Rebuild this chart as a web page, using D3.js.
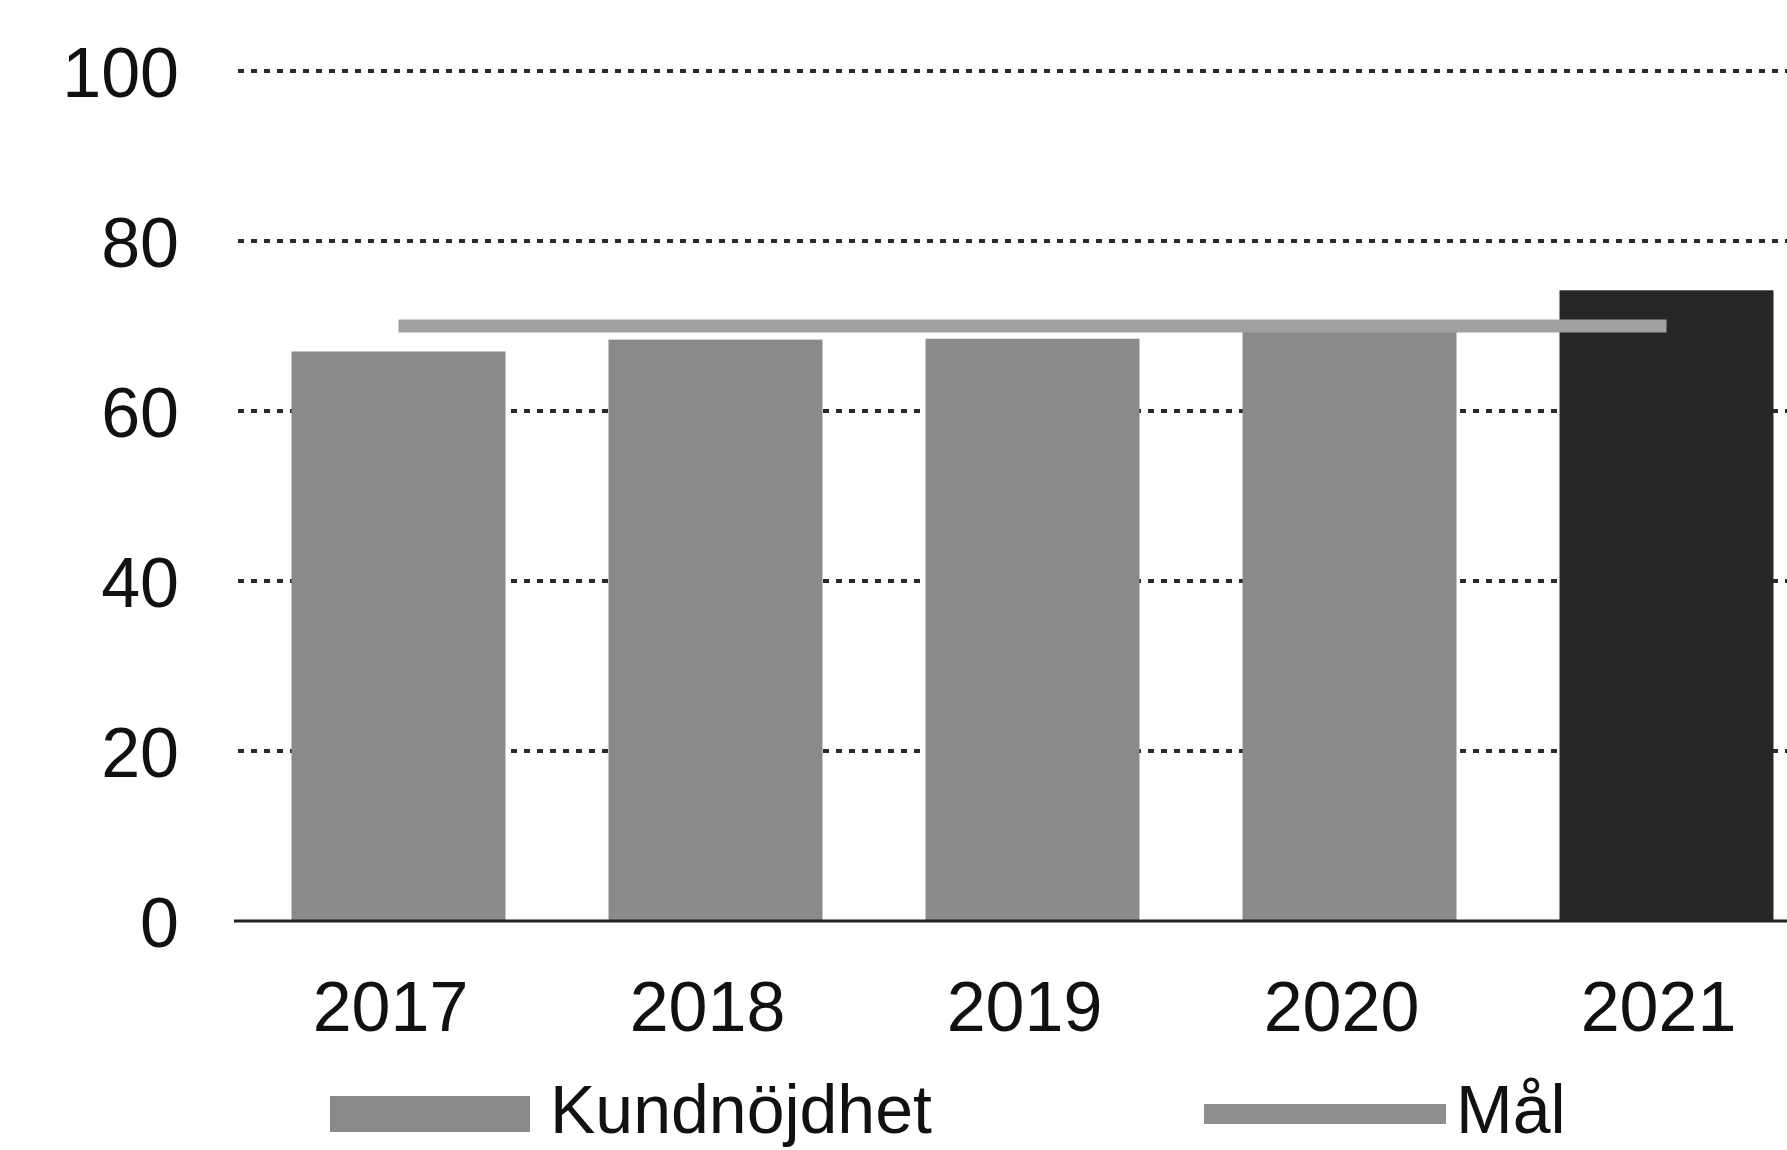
<!DOCTYPE html>
<html>
<head>
<meta charset="utf-8">
<script src="https://cdn.jsdelivr.net/npm/d3@7"></script>
<style>
  html, body { margin: 0; padding: 0; background: #fff; }
  svg { display: block; }
</style>
</head>
<body>
<svg id="chart" width="1787" height="1150"></svg>
<script>
// ---- data ----
const years = ["2017", "2018", "2019", "2020", "2021"];
const satisfaction = [67, 68.4, 68.5, 69.9, 74.2];
const target = [70, 70, 70, 70, 70];
const yTicks = [0, 20, 40, 60, 80, 100];
const highlightYear = "2021";
const legendLabels = ["Kundnöjdhet", "Mål"];

// ---- layout ----
const W = 1787, H = 1150;
const plotLeft = 240, plotTop = 71, plotBottom = 921;
const step = 317;
const font = "'Liberation Sans', Arial, sans-serif";

const svg = d3.select("#chart");

const x = d3.scaleBand()
  .domain(years)
  .range([plotLeft, plotLeft + step * years.length])
  .paddingInner(0.325)
  .paddingOuter(0.1625);

const y = d3.scaleLinear().domain([0, 100]).range([plotBottom, plotTop]);

// gridlines
svg.append("g")
  .selectAll("line")
  .data(yTicks.filter(d => d !== 0))
  .join("line")
  .attr("x1", plotLeft - 2)
  .attr("x2", W)
  .attr("y1", d => y(d))
  .attr("y2", d => y(d))
  .attr("stroke", "#2a2a2a")
  .attr("stroke-width", 4)
  .attr("stroke-dasharray", "6,7");

// y tick labels via axis
const yAxis = d3.axisLeft(y).tickValues(yTicks).tickSize(0).tickPadding(0);
const yg = svg.append("g").attr("transform", `translate(179,0)`).call(yAxis);
yg.select(".domain").remove();
yg.selectAll("text")
  .attr("font-family", font)
  .attr("font-size", 70)
  .attr("fill", "#111")
  .attr("dy", "0.36em");

// bars
svg.append("g")
  .selectAll("rect")
  .data(years.map((yr, i) => ({ yr, v: satisfaction[i] })))
  .join("rect")
  .attr("x", d => x(d.yr))
  .attr("width", x.bandwidth())
  .attr("y", d => y(d.v))
  .attr("height", d => y(0) - y(d.v))
  .attr("fill", d => d.yr === highlightYear ? "#262626" : "#8a8a8a");

// baseline
svg.append("line")
  .attr("x1", plotLeft - 6)
  .attr("x2", W)
  .attr("y1", y(0))
  .attr("y2", y(0))
  .attr("stroke", "#222")
  .attr("stroke-width", 3);

// target line
const line = d3.line()
  .x((d, i) => x(years[i]) + x.bandwidth() / 2)
  .y(d => y(d));
svg.append("path")
  .datum(target)
  .attr("d", line)
  .attr("fill", "none")
  .attr("stroke", "#a0a0a0")
  .attr("stroke-width", 13);

// x axis labels
const xAxis = d3.axisBottom(x).tickSize(0).tickPadding(0);
const xg = svg.append("g").attr("transform", `translate(-8,${plotBottom})`).call(xAxis);
xg.select(".domain").remove();
xg.selectAll("text")
  .attr("font-family", font)
  .attr("font-size", 70)
  .attr("fill", "#111")
  .attr("y", 110)
  .attr("dy", 0);

// legend
const lg = svg.append("g");
lg.append("rect")
  .attr("x", 330).attr("y", 1096).attr("width", 200).attr("height", 36)
  .attr("fill", "#8a8a8a");
lg.append("text")
  .attr("x", 550).attr("y", 1133)
  .attr("font-family", font).attr("font-size", 68).attr("fill", "#111")
  .text(legendLabels[0]);
lg.append("line")
  .attr("x1", 1204).attr("x2", 1446).attr("y1", 1114).attr("y2", 1114)
  .attr("stroke", "#8f8f8f").attr("stroke-width", 20);
lg.append("text")
  .attr("x", 1456).attr("y", 1133)
  .attr("font-family", font).attr("font-size", 68).attr("fill", "#111")
  .text(legendLabels[1]);
</script>
</body>
</html>
